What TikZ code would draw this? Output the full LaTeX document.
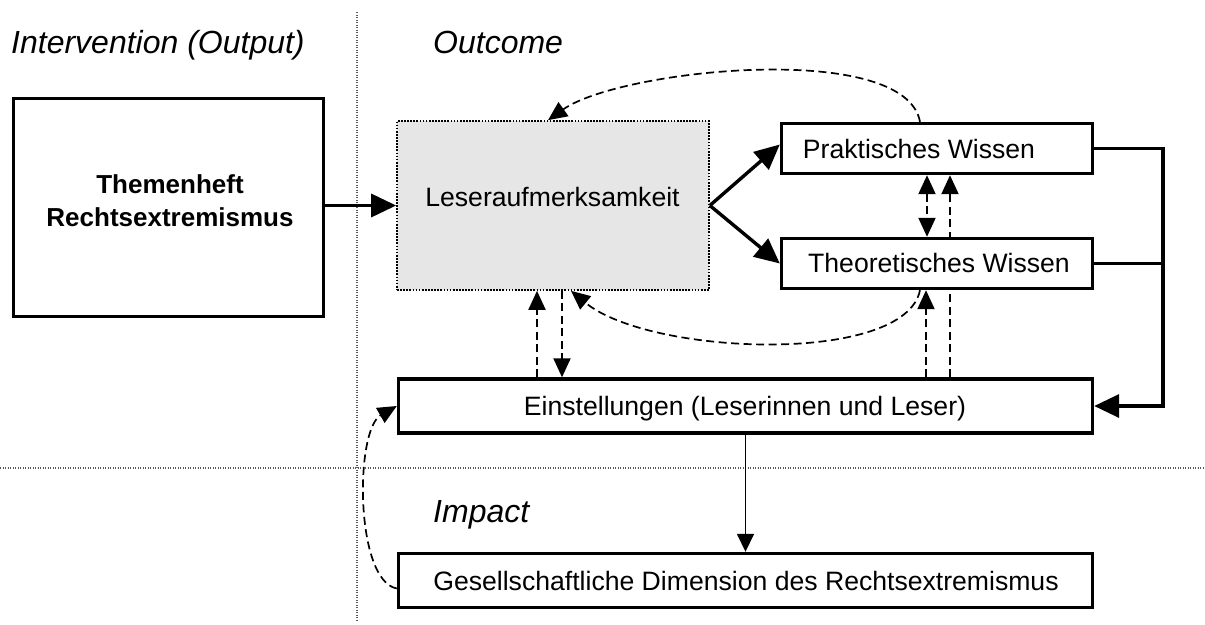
\documentclass[tikz,border=0pt]{standalone}
\usepackage{fontspec}
\setmainfont{Liberation Sans}
\usetikzlibrary{arrows.meta,backgrounds}
\definecolor{lesegray}{RGB}{230,230,230}
\definecolor{sepgray}{RGB}{90,90,90}
\begin{document}
\begin{tikzpicture}[x=1pt,y=-1pt,
  box/.style={draw, line width=3.4pt, fill=white, inner sep=0pt},
  grbox/.style={draw, line width=1.7pt, dash pattern=on 1.7pt off 1.4pt, fill=lesegray, inner sep=0pt},
  txt/.style={font=\fontsize{26.6}{32}\selectfont, inner sep=0pt, anchor=base},
  ttl/.style={font=\fontsize{32}{38}\selectfont\itshape, inner sep=0pt, anchor=base west},
  bigtip/.style={-{Triangle[length=25pt,width=23pt]}},
  thickarr/.style={line width=3.4pt, bigtip},
  dtip/.tip={Triangle[length=19pt,width=17pt]},
  dasharr/.style={line width=2pt, dash pattern=on 8pt off 4.5pt, -dtip},
  dcurve/.style={line width=1.7pt, dash pattern=on 8pt off 4.5pt, -dtip},
  sepline/.style={line width=1.2pt, dash pattern=on 1.2pt off 1.3pt, sepgray}
]
\useasboundingbox (0,0) rectangle (1205,624);

% separators
\draw[sepline] (357,12) -- (357,620);
\draw[sepline] (0,468) -- (1205,468);

% titles
\node[ttl] (tint) at (11,53) {Intervention (Output)};
\node[ttl] (tout) at (433,53) {Outcome};
\node[ttl] (timp) at (433,522) {Impact};

% boxes
\node[box, minimum width=310pt, minimum height=218pt] (them) at (168.5,207.5) {};
\node[grbox, minimum width=312pt, minimum height=169pt] (lese) at (553,205.5) {};
\node[box, minimum width=311pt, minimum height=50pt] (prak) at (937,148.5) {};
\node[box, minimum width=311pt, minimum height=50pt] (theo) at (937,263.5) {};
\node[box, minimum width=694pt, minimum height=54pt] (einst) at (745.5,406) {};
\node[box, minimum width=694pt, minimum height=54pt] (gesell) at (745.5,580.5) {};

% box texts
\node[font=\fontsize{26}{33}\selectfont\bfseries, align=center, inner sep=0pt] (themt) at (170,200.5) {Themenheft\\Rechtsextremismus};
\node[txt] (leset) at (552.5,206) {Leseraufmerksamkeit};
\node[txt] (prakt) at (919,158) {Praktisches Wissen};
\node[txt] (theot) at (939,272) {Theoretisches Wissen};
\node[txt] (einstt) at (745,415) {Einstellungen (Leserinnen und Leser)};
\node[txt] (gesellt) at (746,590) {Gesellschaftliche Dimension des Rechtsextremismus};

% line running behind Theoretisches Wissen
\coordinate (p1) at ([xshift=13pt]prak.south);
\begin{pgfonlayer}{background}
\draw[dasharr] (p1 |- einst.north) -- (p1);
\end{pgfonlayer}

% solid arrows
\draw[thickarr] (them.east |- lese.west) -- (lese.west);
\draw[thickarr] (lese.east) -- ([yshift=4pt]prak.west);
\draw[thickarr] (lese.east) -- (theo.west);
\coordinate (rj) at (1163,406);
\draw[line width=3.4pt] (theo.east) -- (theo.east -| rj);
\draw[thickarr, line join=miter] (prak.east) -| (rj) -- (einst.east);
\draw[line width=1.6pt, -{Triangle[length=18pt,width=17pt]}] (einst.south) -- (gesell.north);

% dashed straight arrows
\draw[dasharr, dtip-dtip] ([xshift=-10pt]prak.south) -- ([xshift=-10pt]theo.north);
\draw[dasharr] ([xshift=-11pt]theo.south |- einst.north) -- ([xshift=-11pt]theo.south);
\draw[dasharr] ([xshift=-16pt]lese.south |- einst.north) -- ([xshift=-16pt]lese.south);
\draw[dasharr] ([xshift=9pt]lese.south) -- ([xshift=9pt]lese.south |- einst.north);

% dashed curves
\draw[dcurve] ([xshift=-17pt]prak.north) .. controls +(-15,-82) and +(72,-51) .. ([xshift=-5pt]lese.north);
\draw[dcurve] ([xshift=-17pt]theo.south) .. controls +(-15,75) and +(79,65) .. ([xshift=18pt]lese.south);
\draw[dcurve] ([yshift=-8pt]gesell.west) .. controls +(-42,-8) and +(-42,24) .. (einst.west);
\end{tikzpicture}
\end{document}
